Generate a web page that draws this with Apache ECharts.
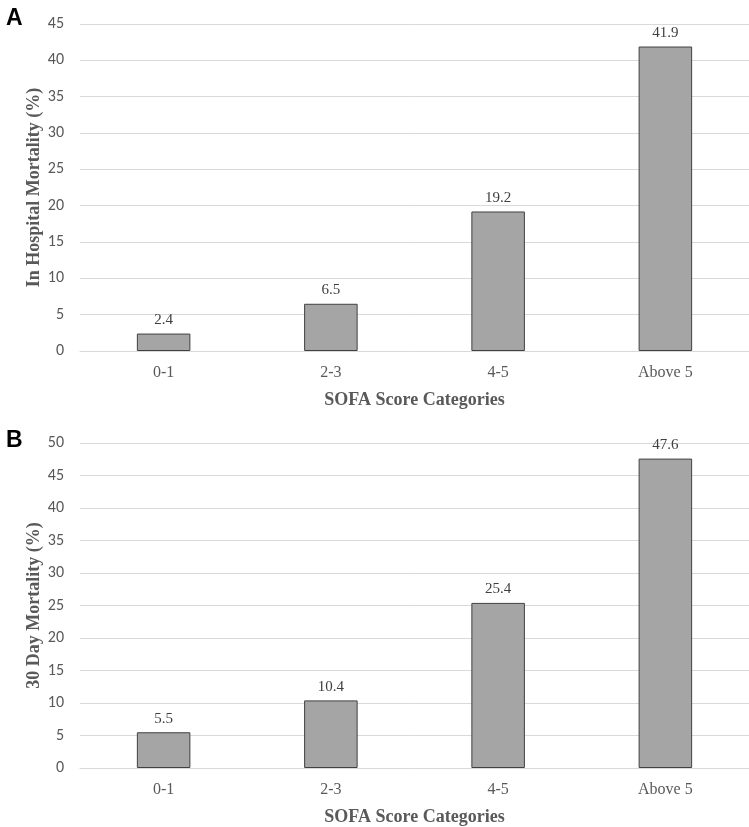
<!DOCTYPE html>
<html><head><meta charset="utf-8">
<script src="https://cdn.jsdelivr.net/npm/echarts@6/dist/echarts.min.js"></script>
<style>html,body{margin:0;padding:0;background:#fff}#c{width:749px;height:827px}</style>
</head><body><div id="c"></div>
<script>
const categories = ['0-1', '2-3', '4-5', 'Above 5'];
const inHospital = [2.4, 6.5, 19.2, 41.9];
const thirtyDay = [5.5, 10.4, 25.4, 47.6];
const panelLabels = ['A', 'B'];
const yTitles = ['In Hospital Mortality (%)', '30 Day Mortality (%)'];
const xTitle = 'SOFA Score Categories';

const chart = echarts.init(document.getElementById('c'), null, {renderer: 'canvas'});
const serif = '"Liberation Serif","Times New Roman",serif';
const sans = 'Carlito,"Open Sans","DejaVu Sans",sans-serif';
function xAxis(i){return {type:'category', gridIndex:i, data:categories,
  axisLine:{show:true, lineStyle:{color:'#d9d9d9', width:1}}, axisTick:{show:false},
  axisLabel:{fontFamily:serif, fontSize:16, color:'#595959', margin:14},
  name:xTitle, nameLocation:'middle', nameGap:40, nameMoveOverlap:false,
  nameTextStyle:{fontFamily:serif, fontSize:18, fontWeight:'bold', color:'#595959'}};}
function yAxis(i,max){return {type:'value', gridIndex:i, min:0, max:max, interval:5,
  axisLine:{show:false}, axisTick:{show:false},
  splitLine:{lineStyle:{color:'#d9d9d9', width:1}},
  axisLabel:{fontFamily:sans, fontSize:16, color:'#595959', margin:16},
  name:yTitles[i], nameLocation:'middle', nameGap:37, nameMoveOverlap:false,
  nameTextStyle:{fontFamily:serif, fontSize:18, fontWeight:'bold', color:'#595959'}};}
function series(i,data){return {type:'bar', xAxisIndex:i, yAxisIndex:i, data:data, barWidth:'32%',
  itemStyle:{color:'#a5a5a5', borderColor:'#404040', borderWidth:1},
  label:{show:true, position:'top', distance:6, fontFamily:serif, fontSize:15, color:'#404040'}};}
chart.setOption({
  animation:false,
  title:[
    {text:panelLabels[0], left:1, top:2, textStyle:{fontFamily:'"Liberation Sans",Arial,sans-serif', fontSize:23, fontWeight:'bold', color:'#000'}},
    {text:panelLabels[1], left:1, top:424, textStyle:{fontFamily:'"Liberation Sans",Arial,sans-serif', fontSize:23, fontWeight:'bold', color:'#000'}}
  ],
  grid:[
    {left:80, right:0, top:24, height:327},
    {left:80, right:0, top:443, height:327}
  ],
  xAxis:[xAxis(0), xAxis(1)],
  yAxis:[yAxis(0,45), yAxis(1,50)],
  series:[series(0,inHospital), series(1,thirtyDay)]
});
</script></body></html>
